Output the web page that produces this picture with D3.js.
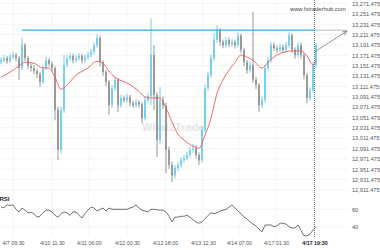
<!DOCTYPE html>
<html>
<head>
<meta charset="utf-8">
<script src="https://cdn.jsdelivr.net/npm/d3@7"></script>
<style>
  html, body { margin: 0; padding: 0; background: #fff; }
  svg { display: block; font-family: "Liberation Sans", Arial, sans-serif; }
</style>
</head>
<body>
<svg id="chart" width="380" height="250"></svg>
<script>
// bars, one per visible step
const opens = [
  13158,13162,13166,13160,13168,13172,13166,13147,13191,13166,
  13151,13147,13141,13135,13120,13147,13162,13155,13147,13066,
  12989,13066,13153,13166,13170,13162,13166,13170,13162,13168,
  13172,13178,13191,13205,13158,13139,13120,13075,13108,13124,
  13075,13089,13085,13091,13079,13075,13081,13077,13050,13085,
  13093,13172,13095,13008,13085,13075,12989,12960,12940,12954,
  12960,12969,12973,12979,12989,12992,12979,12969,13027,13108,
  13133,13166,13201,13220,13197,13191,13201,13193,13197,13191,
  13209,13182,13158,13143,13153,13124,13114,13075,13085,13147,
  13162,13191,13185,13182,13187,13182,13191,13210,13182,13172,
  13191,13172,13133,13089,13104,13153
];
const closes = [
  13162,13166,13160,13168,13172,13166,13147,13191,13166,13151,
  13147,13141,13135,13120,13147,13162,13155,13147,13066,12989,
  13066,13153,13166,13170,13162,13166,13170,13162,13168,13172,
  13178,13191,13205,13158,13139,13120,13075,13108,13124,13075,
  13089,13085,13091,13079,13075,13081,13077,13050,13085,13093,
  13172,13095,13008,13085,13075,12989,12960,12940,12954,12960,
  12969,12973,12979,12989,12992,12979,12969,13027,13108,13133,
  13166,13201,13220,13197,13191,13201,13193,13197,13191,13209,
  13182,13158,13143,13153,13124,13114,13075,13085,13147,13162,
  13191,13185,13182,13187,13182,13191,13210,13182,13172,13191,
  13172,13133,13089,13104,13153,13191
];
const highs = [
  13168,13172,13170,13174,13178,13176,13170,13205,13195,13170,
  13156,13152,13146,13139,13152,13168,13166,13160,13150,13072,
  13072,13172,13172,13176,13174,13172,13176,13174,13174,13178,
  13184,13197,13212,13209,13162,13143,13124,13114,13130,13128,
  13095,13094,13097,13095,13084,13087,13085,13081,13091,13099,
  13243,13191,13100,13110,13092,13080,12995,12966,12960,12966,
  12975,12979,12985,12995,13000,12998,12984,13034,13115,13140,
  13173,13214,13230,13224,13202,13207,13206,13203,13202,13216,
  13213,13186,13162,13160,13255,13130,13118,13092,13153,13168,
  13197,13196,13190,13193,13192,13197,13216,13214,13187,13197,
  13196,13176,13137,13110,13159,13197
];
const lows = [
  13154,13158,13155,13157,13164,13160,13124,13143,13160,13145,
  13140,13135,13128,13110,13116,13143,13150,13140,13046,12969,
  12982,13060,13148,13160,13156,13157,13161,13156,13157,13163,
  13167,13173,13186,13150,13132,13112,13056,13070,13102,13062,
  13070,13080,13080,13073,13070,13071,13071,13041,13046,13080,
  13075,13066,12975,13000,13068,12944,12952,12927,12934,12948,
  12955,12964,12968,12974,12983,12972,12960,12964,13022,13102,
  13128,13160,13196,13190,13185,13186,13187,13188,13185,13186,
  13176,13150,13136,13138,13118,13106,13062,13070,13080,13142,
  13157,13180,13176,13177,13176,13177,13186,13176,13165,13167,
  13165,13125,13079,13084,13099,13148
];

// moving average (red), read at some bars
const maIdx  = [0,3,6,8,11,14,16,18,20,22,25,29,32,34,36,38,42,46,48,51,53,55,57,59,61,64,66,68,70,72,74,76,78,80,82,84,87,89,92,97,100,102,104,105];
const maVals = [13129,13139,13151,13158,13156,13147,13147,13129,13106,13114,13133,13147,13160,13156,13141,13129,13118,13102,13091,13089,
                13089,13070,13043,13019,13008,12996,12992,13017,13050,13098,13124,13143,13158,13172,13168,13162,13147,13158,13172,13180,
                13180,13170,13153,13162];

// RSI pane
const rsiVals = [
  62.6,62,65,64.5,65,60,57,61.5,59,56,
  56.5,55,51,52,56,59,59,57,53,51,
  55,57,56,53,57,57,53,50,55,59,
  62.5,61.5,58,60,61.5,58,61.5,60,60,60,
  60,60,60,61.5,62.5,65,61.5,59,58,57,
  60,60,59.5,59,59,57,52,45.5,51,51,
  52,52,53,51,48,45.5,44,45.5,49,53,
  56,55,56,58,59,60,62.5,65,61.5,58,
  55,51,49,45.5,43,41,37,34,42,42,
  42,40,41,44,44,43,40,38.5,38.5,42,
  36,29.5,29.5,31.5,36,40
];

const priceTicks = [12911.475,12931.475,12951.475,12971.475,12991.475,13011.475,13031.475,13051.475,13071.475,13091.475,
                    13111.475,13131.475,13151.475,13171.475,13191.475,13211.475,13231.475,13251.475,13271.475];
const rsiTicks = [60, 40];
const timeLabels = ["4/7 09:30","4/10 11:30","4/11 06:00","4/12 00:30","4/12 18:00","4/13 12:30","4/14 07:00","4/17 01:30","4/17 19:30"];
const timeIdx = [4, 17, 29.3, 42, 54.7, 67.3, 79.3, 91.7, 104.5];

// resistance level + projection
const levelPrice = 13220;
const levelStart = 7;
const nowIdx = 104.5;
const arrowFrom = [104.5, 13178];
const arrowTo = [115.3, 13218];

const svg = d3.select("#chart");

const x = d3.scaleLinear().domain([0, 105]).range([1, 316]);
const y = d3.scaleLinear().domain([12911.475, 13271.475]).range([190, 3.5]);
const yr = d3.scaleLinear().domain([40, 60]).range([226.7, 209.3]);

const upCol = "#66c6f0";
const downCol = "#8a8a8a";

// grid
const grid = svg.append("g").attr("stroke", "#ececec").attr("stroke-width", 0.6);
grid.selectAll(".hg").data(priceTicks).enter().append("line")
  .attr("x1", 0).attr("x2", 348)
  .attr("y1", d => y(d)).attr("y2", d => y(d));
grid.selectAll(".rg").data(rsiTicks).enter().append("line")
  .attr("x1", 0).attr("x2", 348)
  .attr("y1", d => yr(d)).attr("y2", d => yr(d));
grid.selectAll(".vg").data(timeIdx.slice(0, -1)).enter().append("line")
  .attr("x1", d => x(d)).attr("x2", d => x(d))
  .attr("y1", 0).attr("y2", 237);

// watermark
svg.append("text")
  .attr("x", 142).attr("y", 131)
  .attr("font-size", 11).attr("font-weight", "bold")
  .attr("fill", "#e6e6e6")
  .text("What2Trade");

svg.append("text")
  .attr("x", 290).attr("y", 10.5)
  .attr("font-size", 5.8).attr("fill", "#444")
  .text("www.fxtraderhub.com");

// candles
const bars = svg.append("g");
closes.forEach((c, i) => {
  const o = opens[i];
  const col = c >= o ? upCol : downCol;
  bars.append("line")
    .attr("x1", x(i)).attr("x2", x(i))
    .attr("y1", y(highs[i])).attr("y2", y(lows[i]))
    .attr("stroke", col).attr("stroke-width", 0.9);
  const top = y(Math.max(o, c)), bot = y(Math.min(o, c));
  bars.append("rect")
    .attr("x", x(i) - 0.75).attr("width", 1.5)
    .attr("y", top).attr("height", Math.max(0.8, bot - top))
    .attr("fill", col);
});

// moving average
const maLine = d3.line()
  .x((d, i) => x(maIdx[i]))
  .y(d => y(d))
  .curve(d3.curveMonotoneX);
svg.append("path")
  .attr("d", maLine(maVals))
  .attr("fill", "none")
  .attr("stroke", "#f2575a")
  .attr("stroke-width", 0.9);

// resistance line
svg.append("line")
  .attr("x1", x(levelStart)).attr("x2", x(nowIdx))
  .attr("y1", y(levelPrice)).attr("y2", y(levelPrice))
  .attr("stroke", "#2eaee6").attr("stroke-width", 1.3);
svg.append("line")
  .attr("x1", x(nowIdx)).attr("x2", x(arrowTo[0]))
  .attr("y1", y(levelPrice)).attr("y2", y(levelPrice))
  .attr("stroke", "#444").attr("stroke-width", 0.7)
  .attr("stroke-dasharray", "1,1");

// projection arrow
svg.append("defs").append("marker")
  .attr("id", "ah").attr("viewBox", "0 0 10 10")
  .attr("refX", 9).attr("refY", 5)
  .attr("markerWidth", 7).attr("markerHeight", 7)
  .attr("orient", "auto")
  .append("path").attr("d", "M0,1 L9,5 L0,9")
  .attr("fill", "none").attr("stroke", "#666").attr("stroke-width", 1.2);
svg.append("line")
  .attr("x1", x(arrowFrom[0])).attr("y1", y(arrowFrom[1]))
  .attr("x2", x(arrowTo[0])).attr("y2", y(arrowTo[1]))
  .attr("stroke", "#666").attr("stroke-width", 0.7)
  .attr("marker-end", "url(#ah)");

// RSI line
const rsiLine = d3.line()
  .x((d, i) => x(i))
  .y(d => yr(d));
svg.append("path")
  .attr("d", rsiLine(rsiVals))
  .attr("fill", "none")
  .attr("stroke", "#333")
  .attr("stroke-width", 0.7);

svg.append("text")
  .attr("x", -0.5).attr("y", 200.5)
  .attr("font-size", 6).attr("font-weight", "bold").attr("fill", "#222")
  .text("RSI");

// "now" line
svg.append("line")
  .attr("x1", x(nowIdx)).attr("x2", x(nowIdx))
  .attr("y1", 0).attr("y2", 238)
  .attr("stroke", "#2d5a60").attr("stroke-width", 0.8)
  .attr("stroke-dasharray", "1,1");

// price axis
const fmt = d3.format(",.3f");
const yAxis = svg.append("g")
  .attr("transform", "translate(350,0)")
  .call(d3.axisRight(y).tickValues(priceTicks).tickFormat(fmt).tickSize(0).tickPadding(2));
yAxis.select(".domain").remove();
yAxis.selectAll("text").attr("font-size", 5.6).attr("fill", "#555").attr("font-family", null);

const rAxis = svg.append("g")
  .attr("transform", "translate(350,0)")
  .call(d3.axisRight(yr).tickValues(rsiTicks).tickSize(0).tickPadding(2));
rAxis.select(".domain").remove();
rAxis.selectAll("text").attr("font-size", 5.6).attr("fill", "#555").attr("font-family", null);

// time axis
const xAxis = svg.append("g")
  .attr("transform", "translate(0,239)")
  .call(d3.axisBottom(x).tickValues(timeIdx).tickFormat((d, i) => timeLabels[i]).tickSize(0).tickPadding(2));
xAxis.select(".domain").remove();
xAxis.selectAll("text")
  .attr("font-size", 5.3).attr("fill", "#555").attr("font-family", null)
  .filter((d, i) => i === timeLabels.length - 1)
  .attr("font-weight", "bold").attr("fill", "#222");
</script>
</body>
</html>
